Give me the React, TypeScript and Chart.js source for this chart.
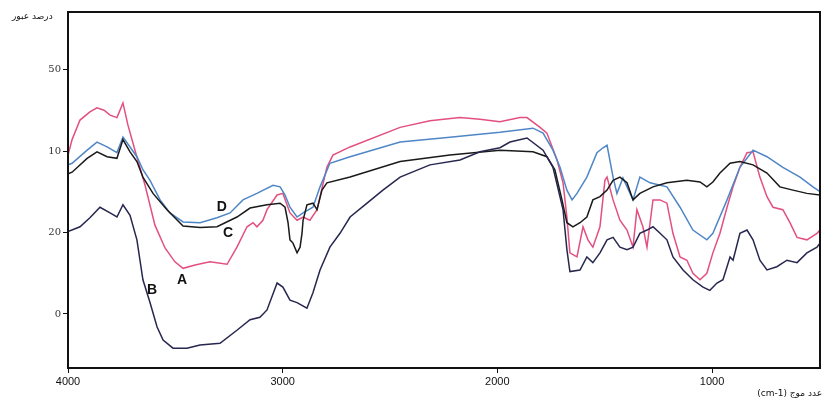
import { useEffect, useRef } from "react";
import { Chart, registerables } from "chart.js";

Chart.register(...registerables);

// ---- data (wavenumber cm-1, %T) ----
const aWn = [4000, 3981, 3944, 3898, 3865, 3832, 3804, 3772, 3744, 3721, 3688, 3641, 3595, 3548, 3502, 3464, 3408, 3339, 3259, 3213, 3166, 3138, 3120, 3092, 3073, 3026, 2999, 2966, 2933, 2905, 2873, 2840, 2826, 2794, 2766, 2686, 2453, 2314, 2174, 2081, 1988, 1895, 1862, 1801, 1769, 1722, 1694, 1676, 1662, 1629, 1601, 1578, 1555, 1522, 1499, 1489, 1461, 1429, 1396, 1368, 1350, 1322, 1303, 1275, 1242, 1210, 1182, 1149, 1117, 1089, 1056, 1024, 996, 963, 930, 902, 870, 837, 809, 777, 744, 716, 670, 637, 604, 558, 511, 497];
const aT = [29.5, 31.4, 33.8, 34.8, 35.3, 35.0, 34.4, 34.1, 35.9, 33.2, 30.1, 25.8, 20.9, 18.1, 16.4, 15.6, 16.0, 16.4, 16.1, 18.2, 20.7, 21.2, 20.7, 21.5, 22.8, 24.6, 24.8, 22.4, 21.5, 21.9, 21.5, 22.8, 24.4, 28.0, 29.5, 30.5, 32.9, 33.7, 34.1, 33.9, 33.6, 34.1, 34.1, 32.9, 32.2, 28.9, 26.1, 21.9, 17.5, 17.0, 20.7, 19.1, 18.2, 20.7, 26.4, 26.8, 24.0, 21.5, 20.3, 18.2, 22.8, 20.7, 18.2, 24.0, 24.0, 23.6, 19.9, 17.0, 16.6, 15.0, 14.2, 15.0, 17.5, 19.9, 23.1, 25.6, 28.0, 29.8, 29.9, 26.8, 24.4, 23.1, 22.8, 21.2, 19.4, 19.1, 19.9, 20.3];

const bWn = [4000, 3944, 3898, 3851, 3804, 3772, 3744, 3711, 3679, 3651, 3618, 3585, 3557, 3511, 3446, 3385, 3292, 3213, 3152, 3106, 3073, 3026, 2999, 2966, 2933, 2887, 2859, 2826, 2780, 2733, 2686, 2607, 2533, 2453, 2314, 2174, 2081, 1988, 1941, 1862, 1787, 1741, 1694, 1676, 1662, 1615, 1583, 1555, 1522, 1489, 1461, 1429, 1396, 1368, 1336, 1303, 1275, 1242, 1210, 1182, 1135, 1089, 1042, 1010, 977, 949, 916, 902, 870, 837, 809, 777, 744, 698, 651, 604, 558, 511, 497];
const bT = [20.1, 20.7, 21.8, 23.1, 22.4, 21.9, 23.4, 22.1, 19.1, 14.2, 11.4, 8.4, 6.8, 5.8, 5.8, 6.2, 6.4, 8.0, 9.3, 9.6, 10.5, 13.8, 13.3, 11.7, 11.4, 10.7, 12.6, 15.4, 18.2, 19.9, 21.9, 23.6, 25.2, 26.8, 28.3, 28.9, 29.9, 30.4, 31.1, 31.6, 30.1, 28.0, 22.8, 17.9, 15.2, 15.4, 17.0, 16.3, 17.5, 19.1, 19.4, 18.2, 17.9, 18.2, 19.9, 20.3, 20.7, 19.9, 19.1, 17.0, 15.4, 14.2, 13.3, 12.9, 13.8, 14.2, 17.0, 16.6, 19.9, 20.3, 19.1, 16.6, 15.4, 15.8, 16.6, 16.3, 17.5, 18.2, 18.7];

const cWn = [4000, 3981, 3911, 3865, 3818, 3772, 3744, 3711, 3679, 3651, 3604, 3539, 3464, 3385, 3306, 3213, 3152, 3073, 3012, 2989, 2975, 2966, 2952, 2933, 2919, 2910, 2905, 2887, 2859, 2840, 2817, 2794, 2686, 2453, 2221, 1988, 1834, 1769, 1732, 1699, 1676, 1648, 1615, 1583, 1555, 1522, 1489, 1461, 1429, 1396, 1368, 1336, 1275, 1210, 1117, 1056, 1024, 996, 963, 916, 870, 809, 744, 684, 623, 558, 497];
const cT = [27.2, 27.4, 29.1, 29.9, 29.3, 29.1, 31.4, 29.9, 28.7, 26.8, 24.8, 22.8, 20.8, 20.6, 20.7, 21.9, 23.0, 23.4, 23.6, 23.1, 21.2, 19.1, 18.7, 17.5, 18.2, 19.9, 21.5, 23.4, 23.6, 22.8, 25.2, 26.1, 26.8, 28.7, 29.5, 30.1, 29.9, 29.3, 27.7, 24.0, 21.2, 20.7, 21.2, 21.9, 24.0, 24.4, 25.2, 26.4, 26.8, 26.1, 24.0, 24.8, 25.6, 26.1, 26.4, 26.2, 25.6, 26.2, 27.3, 28.5, 28.7, 28.3, 27.3, 25.6, 25.2, 24.8, 24.6];

const dWn = [4000, 3981, 3911, 3865, 3818, 3772, 3744, 3711, 3679, 3651, 3618, 3571, 3525, 3464, 3385, 3306, 3245, 3185, 3120, 3045, 3012, 2989, 2966, 2933, 2905, 2859, 2826, 2780, 2686, 2453, 2221, 1988, 1834, 1787, 1741, 1708, 1676, 1652, 1629, 1583, 1536, 1508, 1489, 1461, 1443, 1415, 1368, 1336, 1289, 1210, 1149, 1089, 1024, 996, 930, 870, 809, 744, 670, 590, 530, 497];
const dT = [28.3, 28.5, 30.1, 31.1, 30.5, 29.8, 31.7, 30.5, 29.3, 27.7, 26.4, 24.0, 22.4, 21.3, 21.2, 21.8, 22.4, 24.0, 24.8, 25.8, 25.6, 24.6, 23.1, 21.9, 22.4, 23.1, 25.6, 28.5, 29.3, 31.1, 31.7, 32.3, 32.8, 32.2, 30.1, 28.0, 25.2, 24.0, 24.8, 26.8, 29.8, 30.4, 30.7, 26.8, 24.8, 26.7, 24.0, 26.8, 26.1, 25.6, 23.1, 20.3, 19.1, 19.9, 24.0, 28.0, 30.1, 29.3, 28.0, 26.8, 25.6, 25.0];

const curveNames = ["A", "B", "C", "D"];
const labelWn = [3469, 3609, 3255, 3283];
const labelT = [14.2, 12.9, 19.9, 23.1];

const xTicks = [4000, 3000, 2000, 1000];
const yTickValues = [10, 20, 30, 40];
const yTickText = ["0", "20", "10", "50"];
const yTitle = "درصد عبور";
const xTitle = "(cm-1) عدد موج";

const toPts = (wn: number[], t: number[]) => wn.map((w, i) => ({ x: w, y: t[i] }));

export default function App() {
  const ref = useRef<HTMLCanvasElement>(null);
  useEffect(() => {
    if (!ref.current) return;
    const framePlugin = {
      id: "frame",
      afterDatasetsDraw(chart: any) {
        const { ctx, chartArea, scales } = chart;
        const { left, top, right, bottom } = chartArea;
        ctx.save();
        ctx.strokeStyle = "#111";
        ctx.lineWidth = 2;
        ctx.strokeRect(left, top, right - left, bottom - top);
        ctx.fillStyle = "#111";
        ctx.font = "bold 14px Arial, 'Liberation Sans', sans-serif";
        ctx.textAlign = "center";
        ctx.textBaseline = "middle";
        curveNames.forEach((n, i) => {
          ctx.fillText(n, scales.x.getPixelForValue(labelWn[i]), scales.y.getPixelForValue(labelT[i]));
        });
        ctx.font = "9px 'DejaVu Sans', sans-serif";
        ctx.textAlign = "left";
        ctx.fillText(yTitle, 12, 17);
        ctx.textAlign = "right";
        ctx.fillText(xTitle, 822, 394);
        ctx.restore();
      },
    };
    const ds = (label: string, wn: number[], t: number[], color: string) => ({
      label,
      data: toPts(wn, t),
      borderColor: color,
      borderWidth: 1.5,
      pointRadius: 0,
      tension: 0,
      fill: false,
    });
    const chart = new Chart(ref.current, {
      type: "line",
      data: {
        datasets: [
          ds("B", bWn, bT, "#26264f"),
          ds("C", cWn, cT, "#1a1a1a"),
          ds("D", dWn, dT, "#4f86c6"),
          ds("A", aWn, aT, "#e2507f"),
        ],
      },
      options: {
        animation: false,
        responsive: false,
        layout: { padding: { top: 12, right: 4, left: 0, bottom: 0 } },
        plugins: { legend: { display: false }, tooltip: { enabled: false } },
        scales: {
          x: {
            type: "linear",
            reverse: true,
            min: 497,
            max: 4000,
            afterBuildTicks: (s: any) => {
              s.ticks = xTicks.map((v) => ({ value: v }));
            },
            afterFit: (s: any) => {
              s.height = 32;
            },
            ticks: {
              color: "#111",
              font: { size: 11, family: "Arial, 'Liberation Sans', sans-serif" },
              maxRotation: 0,
              padding: 2,
              callback: (v: any) => String(v),
            },
            grid: { drawOnChartArea: false, drawTicks: true, tickLength: 5, color: "#111" },
            border: { display: false },
          },
          y: {
            type: "linear",
            min: 3.37,
            max: 47.06,
            afterBuildTicks: (s: any) => {
              s.ticks = yTickValues.map((v) => ({ value: v }));
            },
            afterFit: (s: any) => {
              s.width = 68;
            },
            ticks: {
              color: "#333",
              font: { size: 10, family: "'DejaVu Serif', serif" },
              padding: 2,
              callback: (v: any) => {
                const i = yTickValues.indexOf(Number(v));
                return i >= 0 ? yTickText[i] : "";
              },
            },
            grid: { drawOnChartArea: false, drawTicks: true, tickLength: 5, color: "#111" },
            border: { display: false },
          },
        },
      },
      plugins: [framePlugin],
    });
    return () => chart.destroy();
  }, []);
  return (
    <div style={{ position: "absolute", left: 0, top: 0, width: 824, height: 400, background: "#fff" }}>
      <canvas ref={ref} width={824} height={400} />
    </div>
  );
}
